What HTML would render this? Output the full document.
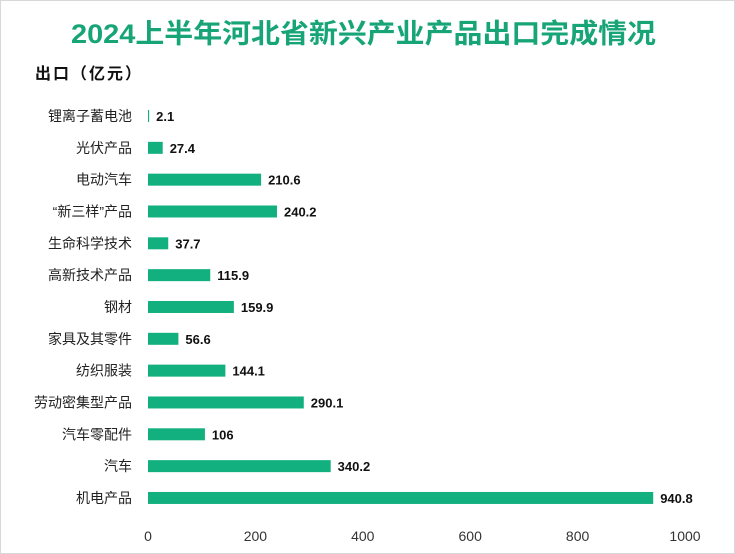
<!DOCTYPE html>
<html><head><meta charset="utf-8"><style>
body{margin:0;background:#fff}
#c{position:relative;width:733px;height:552px;border:1px solid #d8d8d8;font-family:"Liberation Sans","Noto Sans CJK SC",sans-serif;overflow:hidden}
</style></head><body>
<div id="c">
<svg id="s" width="733" height="552">
<text x="70" y="42" textLength="585" lengthAdjust="spacingAndGlyphs" font-size="27" font-weight="bold" fill="#17a476" font-family="Liberation Sans, Noto Sans CJK SC, sans-serif">2024上半年河北省新兴产业产品出口完成情况</text>
<text x="34" y="78" textLength="106" font-size="16" font-weight="bold" fill="#111" font-family="Liberation Sans, Noto Sans CJK SC, sans-serif">出口（亿元）</text>
<g id="g"></g>
</svg>
</div>
<script>
const categories=["锂离子蓄电池","光伏产品","电动汽车","“新三样”产品","生命科学技术","高新技术产品","钢材","家具及其零件","纺织服装","劳动密集型产品","汽车零配件","汽车","机电产品"];
const values=[2.1,27.4,210.6,240.2,37.7,115.9,159.9,56.6,144.1,290.1,106,340.2,940.8];
const labels=["2.1","27.4","210.6","240.2","37.7","115.9","159.9","56.6","144.1","290.1","106","340.2","940.8"];
const ticks=[0,200,400,600,800,1000];
const ns="http://www.w3.org/2000/svg",g=document.getElementById('g');
const x=v=>147+v*0.537;
const y=i=>115+i*31.83;
function mk(t,a){const e=document.createElementNS(ns,t);for(const k in a)e.setAttribute(k,a[k]);g.appendChild(e);return e;}
const F="Liberation Sans, Noto Sans CJK SC, sans-serif";
ticks.forEach(t=>{
 const e=mk('text',{x:x(t),y:540,'text-anchor':'middle','font-size':14,fill:'#333','font-family':F});
 
 
 e.textContent=t;
});
categories.forEach((c,i)=>{
 const l=mk('text',{x:131,y:y(i)+5,'text-anchor':'end','font-size':14,fill:'#222','font-family':F});
 
 
 l.textContent=c;
 const b=mk('rect',{x:x(0),y:y(i)-6,width:Math.max(0,x(values[i])-x(0)),height:12,fill:'#13b07f'});
 
 
 const v=mk('text',{x:x(values[i])+7,y:y(i)+5,'font-size':13,'font-weight':'bold',fill:'#111','font-family':F});
 
 
 v.textContent=labels[i];
});
</script>
</body></html>
